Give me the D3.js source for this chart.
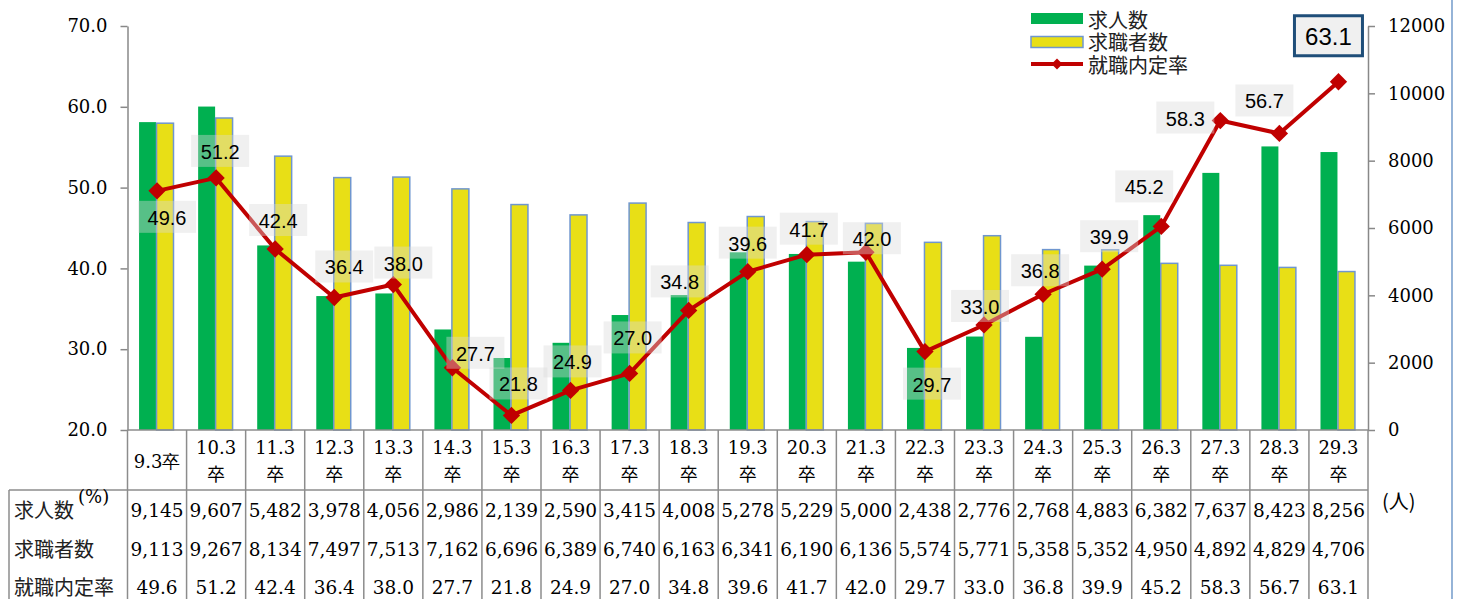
<!DOCTYPE html>
<html lang="ja">
<head>
<meta charset="UTF-8">
<title>求人数・求職者数・就職内定率</title>
<script src="https://cdn.jsdelivr.net/npm/d3@7"></script>
<style>
    body { margin: 0; background: #fff; }
    svg { display: block; }
    .serif { font-family: "DejaVu Serif", "Liberation Serif", serif; }
    .jp { font-family: "Noto Sans CJK JP", sans-serif; }
    .axis path, .axis line { stroke: #888; stroke-width: 1.5; }
</style>
</head>
<body>
<svg width="1459" height="599"></svg>
<script>
// 卒業年次
var categories = ["9.3卒", "10.3卒", "11.3卒", "12.3卒", "13.3卒", "14.3卒", "15.3卒", "16.3卒", "17.3卒", "18.3卒", "19.3卒",
    "20.3卒", "21.3卒", "22.3卒", "23.3卒", "24.3卒", "25.3卒", "26.3卒", "27.3卒", "28.3卒", "29.3卒"];
// 求人数 (人)
var kyujin = [9145, 9607, 5482, 3978, 4056, 2986, 2139, 2590, 3415, 4008, 5278, 5229, 5000, 2438, 2776, 2768, 4883, 6382, 7637, 8423, 8256];
// 求職者数 (人)
var kyushoku = [9113, 9267, 8134, 7497, 7513, 7162, 6696, 6389, 6740, 6163, 6341, 6190, 6136, 5574, 5771, 5358, 5352, 4950, 4892, 4829, 4706];
// 就職内定率 (%)
var naitei = [49.6, 51.2, 42.4, 36.4, 38.0, 27.7, 21.8, 24.9, 27.0, 34.8, 39.6, 41.7, 42.0, 29.7, 33.0, 36.8, 39.9, 45.2, 58.3, 56.7, 63.1];
var leftTicks = [20, 30, 40, 50, 60, 70];
var rightTicks = [0, 2000, 4000, 6000, 8000, 10000, 12000];
var seriesNames = ["求人数", "求職者数", "就職内定率"];

// label offsets from each point (layout only)
var labelOffsets = [[10, 26], [4, -27], [3, -29], [10, -31], [10, -22], [23, -15], [7, -32], [2, -29], [3, -36], [-9, -29], [0, -29],
    [2, -26], [6, -14], [7, 32], [-4, -19], [-3, -24], [7, -33], [-17, -40], [-35, -3], [-15, -33], [-10, -46]];

(function () {
    var svg = d3.select("svg");
    var pLeft = 127.5, pRight = 1368, pTop = 26, pBottom = 430;

    var x = d3.scaleBand().domain(categories).range([pLeft, pRight]);
    var xSub = d3.scaleBand().domain(["kyujin", "kyushoku"]).range([0, x.bandwidth()]).paddingOuter(0.74);
    var yL = d3.scaleLinear().domain([20, 70]).range([pBottom, pTop]);
    var yR = d3.scaleLinear().domain([0, 12000]).range([pBottom, pTop]);

    // bars
    var barData = categories.map(function (c, i) {
        return {cat: c, kyujin: kyujin[i], kyushoku: kyushoku[i]};
    });
    var g = svg.append("g");
    g.selectAll(".g1").data(barData).enter().append("rect")
        .attr("x", function (d) { return x(d.cat) + xSub("kyujin") - 1; })
        .attr("y", function (d) { return yR(d.kyujin); })
        .attr("width", xSub.bandwidth())
        .attr("height", function (d) { return pBottom - yR(d.kyujin); })
        .attr("fill", "#00b050");
    g.selectAll(".g2").data(barData).enter().append("rect")
        .attr("x", function (d) { return x(d.cat) + xSub("kyushoku") - 0.5; })
        .attr("y", function (d) { return yR(d.kyushoku); })
        .attr("width", xSub.bandwidth())
        .attr("height", function (d) { return pBottom - yR(d.kyushoku); })
        .attr("fill", "#e8df16")
        .attr("stroke", "#6f96cf")
        .attr("stroke-width", 1.5);

    // axes
    svg.append("g").attr("class", "axis serif")
        .attr("transform", "translate(" + pLeft + ",0)")
        .call(d3.axisLeft(yL).tickValues(leftTicks).tickFormat(d3.format(".1f")).tickSize(7).tickSizeOuter(0).tickPadding(13))
        .call(function (a) { a.selectAll("text").attr("font-size", 18).attr("fill", "#000"); });
    svg.append("g").attr("class", "axis serif")
        .attr("transform", "translate(" + pRight + ",0)")
        .call(d3.axisRight(yR).tickValues(rightTicks).tickFormat(d3.format("d")).tickSize(7).tickSizeOuter(0).tickPadding(13))
        .call(function (a) { a.selectAll("text").attr("font-size", 18).attr("fill", "#000"); });

    // line
    var cx = function (i) { return x(categories[i]) + x.bandwidth() / 2; };
    var line = d3.line().x(function (d, i) { return cx(i); }).y(function (d) { return yL(d); });
    svg.append("path").datum(naitei)
        .attr("d", line)
        .attr("fill", "none")
        .attr("stroke", "#c00000")
        .attr("stroke-width", 4)
        .attr("stroke-linejoin", "round");
    var diamond = d3.symbol().type(d3.symbolSquare).size(150);
    svg.selectAll(".mk").data(naitei).enter().append("path")
        .attr("d", diamond)
        .attr("fill", "#c00000")
        .attr("transform", function (d, i) { return "translate(" + cx(i) + "," + yL(d) + ") rotate(45)"; });

    // data labels
    var fmt1 = d3.format(".1f");
    naitei.forEach(function (v, i) {
        var px = cx(i) + labelOffsets[i][0], py = yL(v) + labelOffsets[i][1];
        var last = i === naitei.length - 1;
        var w = last ? 68 : 58, h = last ? 40 : 32;
        var lg = svg.append("g").attr("transform", "translate(" + px + "," + py + ")");
        lg.append("rect")
            .attr("x", -w / 2).attr("y", -h / 2).attr("width", w).attr("height", h)
            .attr("fill", last ? "#f0f0f0" : "#d9d9d9")
            .attr("fill-opacity", last ? 1 : 0.4)
            .attr("stroke", last ? "#1f4e79" : "none")
            .attr("stroke-width", 3);
        lg.append("text")
            .attr("text-anchor", "middle")
            .attr("dominant-baseline", "central")
            .attr("y", 1)
            .attr("font-family", "Liberation Sans, Arial, sans-serif")
            .attr("font-size", last ? 24 : 20)
            .text(fmt1(v));
    });

    // table grid
    var grid = svg.append("g").attr("stroke", "#8c8c8c").attr("stroke-width", 1.5);
    var edges = categories.map(function (c) { return x(c); }).concat([pRight]);
    grid.selectAll("line.v").data(edges).enter().append("line")
        .attr("x1", function (d) { return d; }).attr("x2", function (d) { return d; })
        .attr("y1", pBottom).attr("y2", 599);
    grid.append("line").attr("x1", pLeft).attr("x2", pRight).attr("y1", pBottom).attr("y2", pBottom);
    grid.append("line").attr("x1", 9).attr("x2", pRight).attr("y1", 490).attr("y2", 490);
    grid.append("line").attr("x1", 9).attr("x2", 9).attr("y1", 490).attr("y2", 599);

    // category labels
    categories.forEach(function (c) {
        var num = c.replace("卒", "");
        var mid = x(c) + x.bandwidth() / 2;
        var t = svg.append("text").attr("class", "serif")
            .attr("text-anchor", "middle").attr("font-size", 18)
            .attr("x", mid);
        if (num.length <= 3) {
            t.attr("y", 461).attr("dominant-baseline", "central").text(c);
        } else {
            t.append("tspan").attr("x", mid).attr("y", 454).text(num);
            t.append("tspan").attr("class", "jp").attr("x", mid).attr("y", 481).text("卒");
        }
    });

    // table rows
    var rowY = [509, 548, 586];
    var fmtN = d3.format(",");
    var rows = [kyujin.map(fmtN), kyushoku.map(fmtN), naitei.map(fmt1)];
    rows.forEach(function (r, ri) {
        svg.append("text").attr("class", "jp")
            .attr("x", 14).attr("y", rowY[ri])
            .attr("dominant-baseline", "central")
            .attr("font-size", 20).attr("fill", "#222")
            .text(seriesNames[ri]);
        svg.selectAll(null).data(r).enter().append("text")
            .attr("class", "serif")
            .attr("x", function (d, i) { return cx(i); })
            .attr("y", rowY[ri] + 1)
            .attr("text-anchor", "middle")
            .attr("dominant-baseline", "central")
            .attr("font-size", 18.5)
            .text(function (d) { return d; });
    });

    // unit labels
    svg.append("text").attr("class", "serif").attr("x", 78).attr("y", 496)
        .attr("dominant-baseline", "central").attr("font-size", 18).text("(%)");
    svg.append("text").attr("class", "jp").attr("x", 1382).attr("y", 500)
        .attr("dominant-baseline", "central").attr("font-size", 20).text("(人)");

    // legend
    var leg = svg.append("g");
    leg.append("rect").attr("x", 1031).attr("y", 13).attr("width", 52).attr("height", 11).attr("fill", "#00b050");
    leg.append("rect").attr("x", 1031).attr("y", 36.5).attr("width", 52).attr("height", 11)
        .attr("fill", "#e8df16").attr("stroke", "#6f96cf").attr("stroke-width", 1.5);
    leg.append("line").attr("x1", 1031).attr("x2", 1083).attr("y1", 64).attr("y2", 64)
        .attr("stroke", "#c00000").attr("stroke-width", 4);
    leg.append("path").attr("d", d3.symbol().type(d3.symbolSquare).size(60))
        .attr("transform", "translate(1057,64) rotate(45)").attr("fill", "#c00000");
    seriesNames.forEach(function (n, i) {
        leg.append("text").attr("class", "jp")
            .attr("x", 1088).attr("y", 19 + i * 22.5)
            .attr("dominant-baseline", "central")
            .attr("font-size", 20).attr("fill", "#222")
            .text(n);
    });

    // frame edge
    svg.append("line").attr("x1", 1452).attr("x2", 1452).attr("y1", 0).attr("y2", 599)
        .attr("stroke", "#4f81bd").attr("stroke-width", 1.2);
})();
</script>
</body>
</html>
